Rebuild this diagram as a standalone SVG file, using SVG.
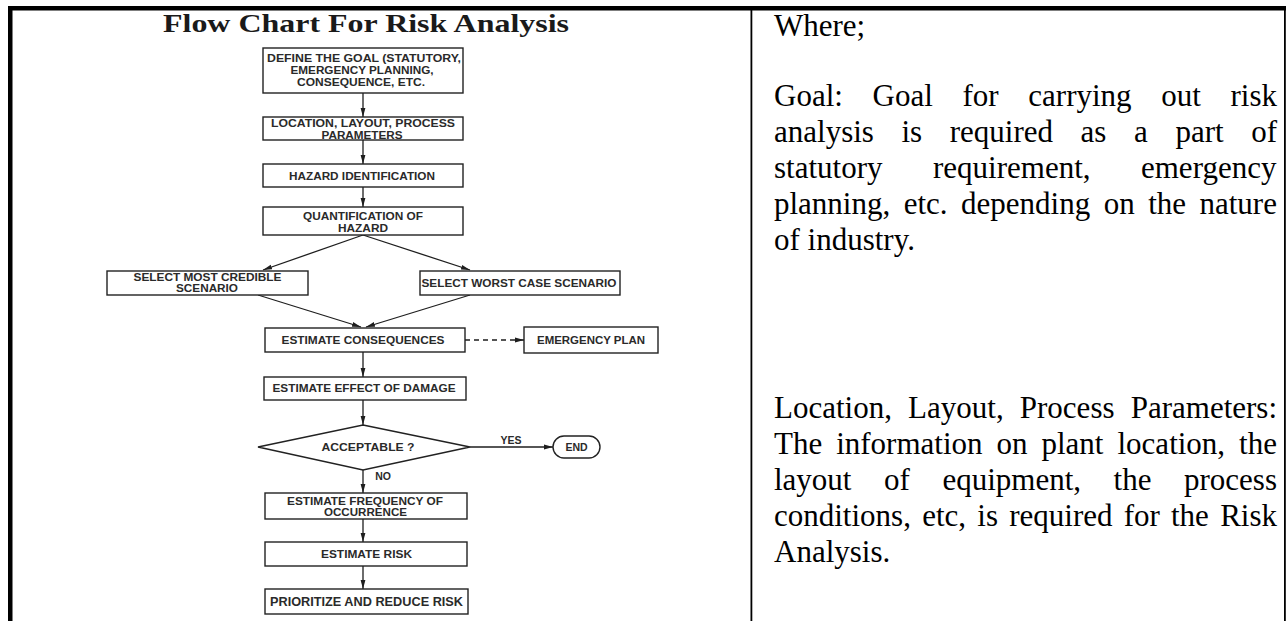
<svg xmlns="http://www.w3.org/2000/svg" width="1287" height="621" viewBox="0 0 1287 621">
<defs>
<style>
.box{fill:#fff;stroke:#222;stroke-width:1.4}
.lbl{font-family:"Liberation Sans",Arial,sans-serif;font-weight:bold;font-size:10.5px;fill:#2a2a2a;text-anchor:middle}
.big{font-size:12px}
.con{fill:none;stroke:#1e1e1e;stroke-width:1.3}
.dash{stroke-dasharray:5,4}
.title{font-family:"Liberation Serif","Times New Roman",serif;font-weight:bold;font-size:26px;fill:#1a1a1a;text-anchor:middle}
.body{font-family:"Liberation Serif","Times New Roman",serif;font-size:31px;fill:#000}
</style>
<marker id="ah" markerUnits="userSpaceOnUse" markerWidth="10" markerHeight="6" refX="9" refY="3" orient="auto">
<path d="M0,0.6 L9,3 L0,5.4 z" fill="#1e1e1e"/>
</marker>
</defs>
<rect width="1287" height="621" fill="#fff"/>
<g id="table">
<rect x="8" y="6" width="1278" height="4.5" fill="#000"/>
<rect x="8" y="6" width="4.5" height="615" fill="#000"/>
<rect x="750.5" y="6" width="1.8" height="615" fill="#000"/>
<rect x="1284" y="6" width="1.8" height="615" fill="#000"/>
</g>
<text id="title" class="title" x="366" y="32" textLength="406" lengthAdjust="spacingAndGlyphs">Flow Chart For Risk Analysis</text>
<g id="connectors">
<line class="con" x1="363" y1="93" x2="363" y2="117" marker-end="url(#ah)"/>
<line class="con" x1="363" y1="140" x2="363" y2="164" marker-end="url(#ah)"/>
<line class="con" x1="363" y1="187" x2="363" y2="207" marker-end="url(#ah)"/>
<line class="con" x1="363" y1="235" x2="263" y2="270" marker-end="url(#ah)"/>
<line class="con" x1="363" y1="235" x2="470" y2="270" marker-end="url(#ah)"/>
<line class="con" x1="258" y1="295" x2="361" y2="327" marker-end="url(#ah)"/>
<line class="con" x1="470" y1="295" x2="366" y2="327" marker-end="url(#ah)"/>
<line class="con dash" x1="465" y1="340" x2="524" y2="340" marker-end="url(#ah)"/>
<line class="con" x1="363" y1="352" x2="363" y2="377" marker-end="url(#ah)"/>
<line class="con" x1="363" y1="400" x2="363" y2="425" marker-end="url(#ah)"/>
<line class="con" x1="470" y1="447" x2="553" y2="447" marker-end="url(#ah)"/>
<line class="con" x1="363" y1="470" x2="363" y2="493" marker-end="url(#ah)"/>
<line class="con" x1="363" y1="519" x2="363" y2="542" marker-end="url(#ah)"/>
<line class="con" x1="363" y1="566" x2="363" y2="589" marker-end="url(#ah)"/>
<text class="lbl" x="511" y="444">YES</text>
<text class="lbl" x="383" y="480">NO</text>
</g>
<g id="n-goal">
<rect class="box" x="263" y="48" width="200" height="45"/>
<text class="lbl" x="364" y="62" textLength="194" lengthAdjust="spacingAndGlyphs">DEFINE THE GOAL (STATUTORY,</text>
<text class="lbl" x="362" y="74" textLength="143" lengthAdjust="spacingAndGlyphs">EMERGENCY PLANNING,</text>
<text class="lbl" x="361" y="86" textLength="128" lengthAdjust="spacingAndGlyphs">CONSEQUENCE, ETC.</text>
</g>
<g id="n-location">
<rect class="box" x="263" y="117" width="200" height="23"/>
<text class="lbl" x="363" y="127" textLength="184" lengthAdjust="spacingAndGlyphs">LOCATION, LAYOUT, PROCESS</text>
<text class="lbl" x="362" y="138.5" textLength="81" lengthAdjust="spacingAndGlyphs">PARAMETERS</text>
</g>
<g id="n-hazard">
<rect class="box" x="263" y="164" width="200" height="23"/>
<text class="lbl" x="362" y="179.5" textLength="146" lengthAdjust="spacingAndGlyphs">HAZARD IDENTIFICATION</text>
</g>
<g id="n-quant">
<rect class="box" x="263" y="207" width="200" height="28"/>
<text class="lbl" x="363" y="220" textLength="120" lengthAdjust="spacingAndGlyphs">QUANTIFICATION OF</text>
<text class="lbl" x="363" y="232" textLength="50" lengthAdjust="spacingAndGlyphs">HAZARD</text>
</g>
<g id="n-credible">
<rect class="box" x="107" y="271" width="201" height="24"/>
<text class="lbl" x="207.5" y="281" textLength="148" lengthAdjust="spacingAndGlyphs">SELECT MOST CREDIBLE</text>
<text class="lbl" x="207" y="292" textLength="62" lengthAdjust="spacingAndGlyphs">SCENARIO</text>
</g>
<g id="n-worst">
<rect class="box" x="420" y="271" width="200" height="24"/>
<text class="lbl" x="519" y="287" textLength="195" lengthAdjust="spacingAndGlyphs">SELECT WORST CASE SCENARIO</text>
</g>
<g id="n-consequences">
<rect class="box" x="265" y="328" width="200" height="24"/>
<text class="lbl" x="363" y="344" textLength="163" lengthAdjust="spacingAndGlyphs">ESTIMATE CONSEQUENCES</text>
</g>
<g id="n-emergency">
<rect class="box" x="524" y="327" width="134" height="26"/>
<text class="lbl" x="591" y="344" textLength="108" lengthAdjust="spacingAndGlyphs">EMERGENCY PLAN</text>
</g>
<g id="n-effect">
<rect class="box" x="264" y="377" width="202" height="23"/>
<text class="lbl" x="364" y="392" textLength="183" lengthAdjust="spacingAndGlyphs">ESTIMATE EFFECT OF DAMAGE</text>
</g>
<g id="n-acceptable">
<polygon class="box" points="363,425 470,447 363,470 258,447"/>
<text class="lbl" x="368" y="451" textLength="93" lengthAdjust="spacingAndGlyphs">ACCEPTABLE ?</text>
</g>
<g id="n-end">
<rect class="box" x="553" y="436" width="47" height="22" rx="11" ry="11"/>
<text class="lbl" x="576.5" y="451">END</text>
</g>
<g id="n-frequency">
<rect class="box" x="265" y="493" width="202" height="26"/>
<text class="lbl" x="365" y="505" textLength="156" lengthAdjust="spacingAndGlyphs">ESTIMATE FREQUENCY OF</text>
<text class="lbl" x="365.5" y="516" textLength="83" lengthAdjust="spacingAndGlyphs">OCCURRENCE</text>
</g>
<g id="n-risk">
<rect class="box" x="265" y="542" width="202" height="24"/>
<text class="lbl" x="366.5" y="558" textLength="91" lengthAdjust="spacingAndGlyphs">ESTIMATE RISK</text>
</g>
<g id="n-prioritize">
<rect class="box" x="265" y="589" width="203" height="25"/>
<text class="lbl big" x="366.5" y="605.5" textLength="193" lengthAdjust="spacingAndGlyphs">PRIORITIZE AND REDUCE RISK</text>
</g>
<g id="explanation">
<text class="body" x="774" y="36">Where;</text>
<text class="body" y="106"><tspan x="774">Goal:</tspan><tspan x="872.5">Goal</tspan><tspan x="962.5">for</tspan><tspan x="1028.3">carrying</tspan><tspan x="1161.2">out</tspan><tspan x="1230.5">risk</tspan></text>
<text class="body" y="142"><tspan x="774">analysis</tspan><tspan x="901.5">is</tspan><tspan x="949.7">required</tspan><tspan x="1080.6">as</tspan><tspan x="1134">a</tspan><tspan x="1175.4">part</tspan><tspan x="1251.2">of</tspan></text>
<text class="body" y="178"><tspan x="774">statutory</tspan><tspan x="933">requirement,</tspan><tspan x="1141">emergency</tspan></text>
<text class="body" y="214"><tspan x="774">planning,</tspan><tspan x="903.7">etc.</tspan><tspan x="961.1">depending</tspan><tspan x="1103.7">on</tspan><tspan x="1148.2">the</tspan><tspan x="1199.5">nature</tspan></text>
<text class="body" x="774" y="250">of industry.</text>
<text class="body" y="418"><tspan x="774">Location,</tspan><tspan x="908.1">Layout,</tspan><tspan x="1019.8">Process</tspan><tspan x="1130.7">Parameters:</tspan></text>
<text class="body" y="454"><tspan x="774">The</tspan><tspan x="836.2">information</tspan><tspan x="996.6">on</tspan><tspan x="1041.5">plant</tspan><tspan x="1117.5">location,</tspan><tspan x="1239.1">the</tspan></text>
<text class="body" y="490"><tspan x="774">layout</tspan><tspan x="884">of</tspan><tspan x="942.4">equipment,</tspan><tspan x="1113.6">the</tspan><tspan x="1184">process</tspan></text>
<text class="body" y="526"><tspan x="774">conditions,</tspan><tspan x="922.2">etc,</tspan><tspan x="977.3">is</tspan><tspan x="1009.2">required</tspan><tspan x="1123.7">for</tspan><tspan x="1171">the</tspan><tspan x="1220.2">Risk</tspan></text>
<text class="body" x="774" y="562">Analysis.</text>
</g>
</svg>
